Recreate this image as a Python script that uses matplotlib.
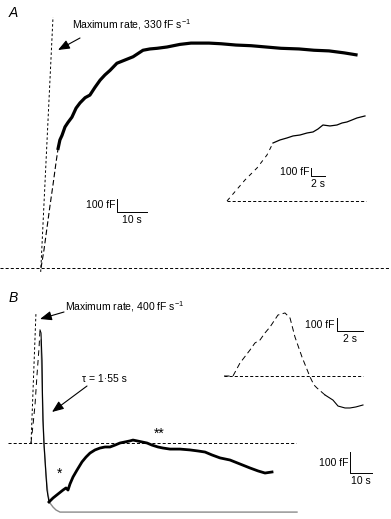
import matplotlib
matplotlib.use("Agg")
import matplotlib.pyplot as plt

plt.rcParams['font.family'] = ['Liberation Sans', 'DejaVu Sans']
plt.rcParams['mathtext.fontset'] = 'custom'
plt.rcParams['mathtext.rm'] = 'Liberation Sans'
plt.rcParams['mathtext.it'] = 'Liberation Sans:italic'
plt.rcParams['lines.scale_dashes'] = False

# ---- panel A: capacitance (fF) vs time (s) ----
a_rise_t = [0, 1, 2, 3, 4, 5, 5.7]
a_rise_c = [0, 140, 310, 480, 640, 810, 920]
a_t = [5.7, 6.3, 7, 8, 9, 10.3, 11.7, 13, 14.7, 16.3, 18, 19.7, 21.3, 23, 25.3,
       28, 30.7, 34, 36.3, 38.7, 42, 46.3, 50, 53, 56, 60, 65, 70, 75, 80, 86,
       91, 96, 101, 105]
a_c = [920, 985, 1020, 1085, 1120, 1160, 1230, 1270, 1310, 1330, 1390, 1445,
       1485, 1520, 1575, 1600, 1625, 1675, 1685, 1690, 1700, 1720, 1730, 1730,
       1730, 1725, 1715, 1710, 1700, 1690, 1685, 1675, 1670, 1655, 1640]
a_max_t = [-0.1, 4.0]
a_max_c = [-30, 1930]

# inset A (expanded time base)
ia_rise_t = [0, 0.86, 2.57, 4.29, 5.71, 6.57]
ia_rise_c = [0, 88, 263, 413, 575, 725]
ia_t = [6.57, 7.57, 8.57, 9.43, 10.43, 11.43, 12.29, 13, 13.71, 14.71, 15.71,
        16.43, 17.14, 17.86, 18.57, 19.71]
ia_c = [725, 763, 788, 813, 825, 850, 863, 900, 950, 938, 950, 975, 988,
        1013, 1038, 1063]

# ---- panel B ----
b_rise_t = [0, 0.91, 1.82, 2.73, 3.64, 4.09]
b_rise_c = [0, 86, 181, 324, 452, 538]
b_dec_t = [4.09, 4.55, 5.0, 5.23, 5.45, 5.91, 6.82, 7.27, 8.18]
b_dec_c = [538, 524, 395, 219, 110, -5, -152, -224, -281]
b_t = [8.18, 10.0, 12.27, 14.55, 15.91, 16.82, 17.73, 19.09, 20.91, 23.18, 25,
       26.82, 29.09, 31.36, 33.64, 35.91, 38.18, 40.45, 42.73, 45, 46.36, 48.18,
       50.45, 52.73, 55, 57.73, 60, 63.18, 67.73, 72.27, 75.91, 79.09, 82.27,
       85.91, 90.45, 95, 99.55, 103.18, 106.36, 109.55]
b_c = [-281, -262, -243, -224, -214, -224, -195, -162, -129, -90, -67, -48,
       -33, -24, -19, -19, -10, 0, 5, 10, 14, 10, 5, 0, -10, -19, -24, -29,
       -29, -33, -38, -43, -57, -71, -81, -100, -119, -133, -143, -138]
b_fit_t = [4.55, 5.0, 5.45, 5.91, 6.82, 7.73, 8.64, 10.0, 11.36, 13.18, 120.9]
b_fit_c = [490, 300, 110, -5, -152, -248, -286, -305, -319, -329, -329]
b_max_t = [0, 2.27]
b_max_c = [-5, 624]

# inset B
ib_t = [0, 0.69, 1.23, 2.0, 2.38, 2.77, 3.15, 3.54, 4.15, 4.69, 5.08, 5.46,
        6.0, 6.62, 6.92, 7.15, 7.77]
ib_c = [0, 0, 100, 200, 254, 277, 331, 377, 469, 485, 446, 300, 146, -8,
        -69, -92, -146]
ib_tail_t = [7.77, 8.38, 8.77, 9.31, 9.69, 10.15, 10.69]
ib_tail_c = [-146, -185, -231, -246, -246, -238, -223]

W, H = 391, 519
fig = plt.figure(figsize=(W / 100, H / 100), dpi=100)


def add_ax(x0, y0, x1, y1, xlim, ylim):
    ax = fig.add_axes([x0 / W, 1 - y1 / H, (x1 - x0) / W, (y1 - y0) / H])
    ax.set_xlim(*xlim)
    ax.set_ylim(*ylim)
    ax.axis('off')
    return ax


dash = (0, (2.2, 1.5))
fs = 7.5

def scalebar(ax, x, y, dx, dy, ylab, xlab, xoff, yoff):
    ax.plot([x, x, x + dx], [y + dy, y, y], color='k', lw=0.7)
    ax.text(x - xoff, y + dy / 2, ylab, ha='right', va='center', fontsize=fs)
    ax.text(x + dx / 2, y - yoff, xlab, ha='center', va='center', fontsize=fs)


# panel A
axA = add_ax(0, 0, W, 280, (-41 / 3, 350 / 3), (-12 / 0.13, 268 / 0.13))
axA.axhline(0, color='k', lw=0.7, ls=dash)
axA.plot(a_max_t, a_max_c, color='k', lw=0.7, ls=(0, (1.8, 1.6)))
axA.plot(a_rise_t, a_rise_c, color='k', lw=0.8, ls=(0, (4, 2)))
axA.plot(a_t, a_c, color='k', lw=2.3, solid_joinstyle='round')
scalebar(axA, 25.33, 431, 10, 100, '100 fF', '10 s', 0.6, 60)

iaA = add_ax(215, 100, 380, 215, (-12 / 7, 153 / 7), (-14 / 0.08, 101 / 0.08))
iaA.hlines(0, 0, 19.86, color='k', lw=0.7, ls=dash)
iaA.plot(ia_rise_t, ia_rise_c, color='k', lw=0.7, ls=(0, (3, 3)))
iaA.plot(ia_t, ia_c, color='k', lw=0.9)
scalebar(iaA, 12, 312.5, 2, 100, '100 fF', '2 s', 0.15, 100)

# panel B
axB = add_ax(0, 280, W, H, (-31 / 2.2, 360 / 2.2), (-76 / 0.21, 163 / 0.21))
axB.hlines(0, -10.45, 120.45, color='k', lw=0.7, ls=dash)
axB.plot(b_max_t, b_max_c, color='k', lw=0.7, ls=(0, (1.8, 1.6)))
axB.plot(b_fit_t, b_fit_c, color='#8a8a8a', lw=1.0)
axB.plot(b_rise_t, b_rise_c, color='k', lw=0.7, ls=(0, (4, 3)))
axB.plot(b_dec_t, b_dec_c, color='k', lw=0.8)
axB.plot(b_t, b_c, color='k', lw=2.0, solid_joinstyle='round')
scalebar(axB, 145, -143, 10, 100, '100 fF', '10 s', 0.9, 38)

ibB = add_ax(210, 300, 385, 420, (-14 / 13, 161 / 13), (-44 / 0.13, 76 / 0.13))
ibB.hlines(0, 0, 10.69, color='k', lw=0.7, ls=dash)
ibB.plot(ib_t, ib_c, color='k', lw=0.7, ls=(0, (4, 2.5)))
ibB.plot(ib_tail_t, ib_tail_c, color='k', lw=0.8)
scalebar(ibB, 8.69, 346, 2, 100, '100 fF', '2 s', 0.2, 60)

# labels and arrows (figure pixel positions)
def fpx(x, y):
    return (x, H - y)

arrow = dict(arrowstyle='-|>,head_length=0.7,head_width=0.28', color='k',
             lw=0.8, shrinkA=0, shrinkB=0, mutation_scale=10)

fig.text(9 / W, 1 - 13 / H, 'A', fontsize=10, style='italic', va='center')
fig.text(9 / W, 1 - 298 / H, 'B', fontsize=10, style='italic', va='center')

fig.text(72 / W, 1 - 25 / H, r'Maximum rate, 330 fF s$^{-1}$', fontsize=fs,
         va='center')
fig.text(65 / W, 1 - 307 / H, r'Maximum rate, 400 fF s$^{-1}$', fontsize=fs,
         va='center')
fig.text(82 / W, 1 - 379 / H, '\u03c4 = 1\u00b755 s', fontsize=fs, va='center')
fig.text(60 / W, 1 - 474 / H, '*', fontsize=10, ha='center', va='center')
fig.text(159 / W, 1 - 434 / H, '**', fontsize=10, ha='center', va='center')

for p0, p1 in [((80, 38), (58, 50)), ((64, 312), (40, 319)),
               ((87, 386), (52, 412))]:
    fig.add_artist(matplotlib.patches.FancyArrowPatch(
        fpx(*p0), fpx(*p1), transform=None, **arrow))

fig.savefig('out.png', dpi=100)
